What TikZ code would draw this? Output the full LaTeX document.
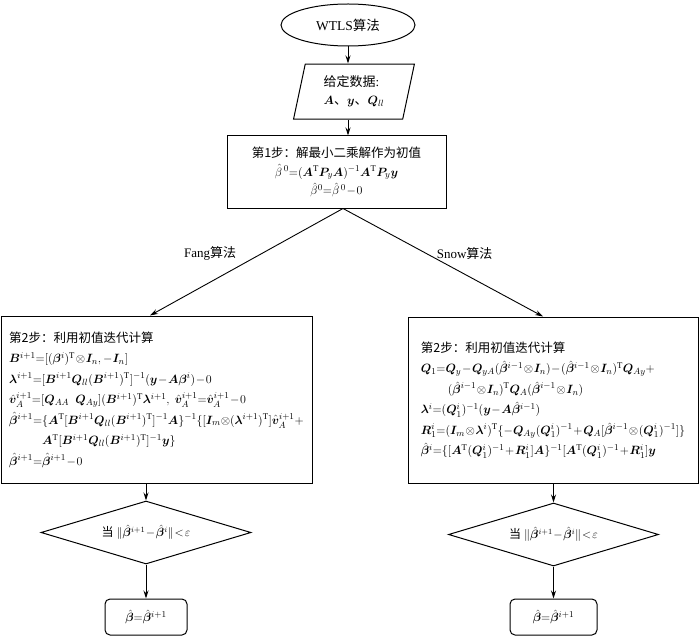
\documentclass[tikz,border=0pt]{standalone}
\usepackage{fontspec}
\setmainfont{Liberation Serif}
\newfontfamily\cjk{Noto Sans CJK SC}
\usepackage{amsmath}
\usepackage{bm}
\usetikzlibrary{shapes.geometric, arrows.meta, positioning}
\newcommand{\zh}[1]{{\cjk #1}}
\newcommand{\tp}{\mathrm{T}}
\newcommand{\hbeta}{\hat{\bm{\beta}}}
\tikzset{
  startend/.style={
    ellipse, draw, line width=1pt,
    minimum width=134pt, minimum height=42pt,
    font=\fontsize{13.5}{16}\selectfont
  },
  inputbox/.style={
    trapezium, trapezium left angle=78, trapezium right angle=102,
    draw, line width=1pt, align=left,
    minimum width=106pt, minimum height=55pt,
    font=\fontsize{13}{18}\selectfont
  },
  stepbox/.style={
    rectangle, draw, line width=1pt, align=left,
    font={\fontsize{12.5}{20.5}\selectfont\medmuskip=1mu\thickmuskip=1.5mu}
  },
  decision/.style={
    diamond, draw, line width=1pt, aspect=3.3, inner sep=0pt,
    minimum width=210pt, minimum height=63pt,
    font={\fontsize{12}{14}\selectfont\medmuskip=1mu\thickmuskip=1.5mu}
  },
  resultbox/.style={
    rectangle, rounded corners=5pt, draw, line width=1pt,
    minimum height=36pt,
    font={\fontsize{12.5}{14}\selectfont\thickmuskip=1mu}
  },
  arr/.style={-{Stealth[length=8pt, width=5pt]}, line width=0.9pt},
  lbl/.style={font=\fontsize{13}{15}\selectfont}
}
\begin{document}
\begin{tikzpicture}[x=1pt, y=-1pt]
  \useasboundingbox (0,0) rectangle (700,636);

  % Nodes
  \node[startend] (start) at (348,25) {WTLS\zh{算法}};
  \node[inputbox, below=17pt of start, xshift=6pt] (data)
    {\zh{给定数据}:\\ $\bm{A}$\zh{、}$\bm{y}$\zh{、}$\bm{Q}_{ll}$};
  \node[stepbox, align=center, minimum width=219pt, minimum height=72pt] (step1) at (336.5,172)
    {\zh{第1步：解最小二乘解作为初值}\\[-2pt]
     $\hat{\beta}^{\,0}{=}(\bm{A}^{\tp}\bm{P}_{y}\bm{A})^{-1}\bm{A}^{\tp}\bm{P}_{y}\bm{y}$\\[-2pt]
     $\hat{\beta}^{0}{=}\hat{\beta}^{\,0}-0$};

  % Fang branch
  \node[stepbox, minimum width=311pt, minimum height=167pt] (fangbox) at (156.5,399.5)
    {\zh{第2步：利用初值迭代计算}\\
     $\bm{B}^{i+1}{=}[(\bm{\beta}^{i})^{\tp}\otimes\bm{I}_{n},-\bm{I}_{n}]$\\
     $\bm{\lambda}^{i+1}{=}[\bm{B}^{i+1}\bm{Q}_{ll}(\bm{B}^{i+1})^{\tp}]^{-1}(\bm{y}-\bm{A}\bm{\beta}^{i})-0$\\
     $\hat{\bm{v}}_{A}^{i+1}{=}[\bm{Q}_{AA}\ \ \bm{Q}_{Ay}](\bm{B}^{i+1})^{\tp}\bm{\lambda}^{i+1},\ \hat{\bm{v}}_{A}^{i+1}{=}\hat{\bm{v}}_{A}^{i+1}-0$\\
     $\hbeta^{i+1}{=}\{\bm{A}^{\tp}[\bm{B}^{i+1}\bm{Q}_{ll}(\bm{B}^{i+1})^{\tp}]^{-1}\bm{A}\}^{-1}\{[\bm{I}_{m}{\otimes}(\bm{\lambda}^{i+1})^{\tp}]\hat{\bm{v}}_{A}^{i+1}{+}$\\
     \hspace*{33pt}$\bm{A}^{\tp}[\bm{B}^{i+1}\bm{Q}_{ll}(\bm{B}^{i+1})^{\tp}]^{-1}\bm{y}\}$\\
     $\hbeta^{i+1}{=}\hbeta^{i+1}-0$};
  \node[decision] (fangcheck) at (146,532.5)
    {\zh{当}\ $\|\hbeta^{i+1}-\hbeta^{i}\|<\varepsilon$};
  \node[resultbox, minimum width=82pt] (fangend) at (146,617)
    {$\hbeta{=}\hbeta^{i+1}$};

  % Snow branch
  \node[stepbox, minimum width=290pt, minimum height=166pt] (snowbox) at (553,400)
    {\zh{第2步：利用初值迭代计算}\\
     $\bm{Q}_{1}{=}\bm{Q}_{y}-\bm{Q}_{yA}(\hbeta^{i-1}\otimes\bm{I}_{n})-(\hbeta^{i-1}\otimes\bm{I}_{n})^{\tp}\bm{Q}_{Ay}+$\\
     \hspace*{27pt}$(\hbeta^{i-1}\otimes\bm{I}_{n})^{\tp}\bm{Q}_{A}(\hbeta^{i-1}\otimes\bm{I}_{n})$\\
     $\bm{\lambda}^{i}{=}(\bm{Q}_{1}^{i})^{-1}(\bm{y}-\bm{A}\hbeta^{i-1})$\\
     $\bm{R}_{1}^{i}{=}(\bm{I}_{m}\otimes\bm{\lambda}^{i})^{\tp}\{-\bm{Q}_{Ay}(\bm{Q}_{1}^{i})^{-1}+\bm{Q}_{A}[\hbeta^{i-1}\otimes(\bm{Q}_{1}^{i})^{-1}]\}$\\
     $\hbeta^{i}{=}\{[\bm{A}^{\tp}(\bm{Q}_{1}^{i})^{-1}+\bm{R}_{1}^{i}]\bm{A}\}^{-1}[\bm{A}^{\tp}(\bm{Q}_{1}^{i})^{-1}+\bm{R}_{1}^{i}]\bm{y}$};
  \node[decision] (snowcheck) at (553.5,534.5)
    {\zh{当}\ $\|\hbeta^{i+1}-\hbeta^{i}\|<\varepsilon$};
  \node[resultbox, minimum width=87pt] (snowend) at (553.5,617)
    {$\hbeta{=}\hbeta^{i+1}$};

  \coordinate (split) at ([xshift=6.5pt]step1.south);

  % Arrows
  \draw[arr] (start.south) -- (start.south |- data.north);
  \draw[arr] (start.south |- data.south) -- (start.south |- step1.north);
  \draw[arr] (split) -- node[lbl, pos=0.42, left=22pt] {Fang\zh{算法}} ([xshift=-6.5pt]fangbox.north);
  \draw[arr] (split) -- node[lbl, pos=0.42, right=6pt] {Snow\zh{算法}} ([xshift=-10pt]snowbox.north);

  \draw[arr] (fangbox.south -| fangcheck.north) -- (fangcheck.north);
  \draw[arr] (fangcheck.south) -- (fangend.north);
  \draw[arr] (snowbox.south -| snowcheck.north) -- (snowcheck.north);
  \draw[arr] (snowcheck.south) -- (snowend.north);

\end{tikzpicture}
\end{document}
